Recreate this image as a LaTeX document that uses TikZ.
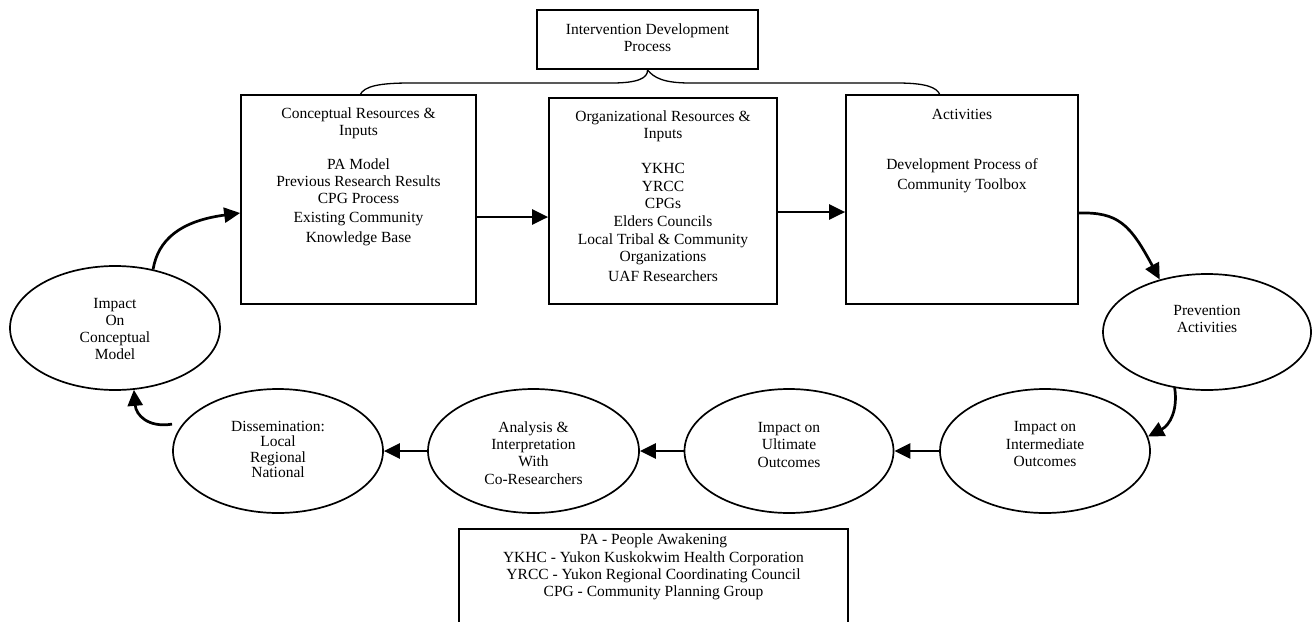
\documentclass[tikz,border=0pt]{standalone}
\usepackage{fontspec}
\setmainfont{Liberation Serif}
\usetikzlibrary{arrows.meta,shapes.geometric}
\begin{document}
\begin{tikzpicture}[x=1pt,y=-1pt,
  box/.style={draw, line width=1.7pt, rectangle, inner sep=0pt},
  oval/.style={draw, line width=1.7pt, ellipse, inner sep=0pt, minimum width=210pt, minimum height=124pt},
  txt/.style={font=\fontsize{15.5}{17.3}\selectfont, align=center, inner sep=0pt},
  arr/.style={line width=2.7pt, -{Triangle[length=16pt,width=15pt]}},
]
\clip (0,0) rectangle (1313,621);
\fill[white] (0,0) rectangle (1313,621);

% boxes
\node[box, minimum width=221pt, minimum height=59pt] (top) at (647.5,39.5) {};
\node[box, minimum width=235pt, minimum height=209pt] (b1) at (358.5,199.5) {};
\node[box, minimum width=228pt, minimum height=206pt] (b2) at (663,201) {};
\node[box, minimum width=232pt, minimum height=209pt] (b3) at (962,199.5) {};
\node[box, minimum width=389pt, minimum height=111pt] (leg) at (653.5,584.5) {};

% box texts
\node[txt] (ttop) at (647.5,37.5) {Intervention Development\\Process};
\node[txt] (t1h) at (358.5,123) {Conceptual Resources \&\\Inputs};
\node[txt] (t1b) at (358.5,202) {PA Model\\Previous Research Results\\CPG Process\\[1pt]Existing Community\\[2.5pt]Knowledge Base};
\node[txt] (t2h) at (663,126) {Organizational Resources \&\\Inputs};
\node[txt] (t2b) at (663,222.5) {YKHC\\YRCC\\CPGs\\[1pt]Elders Councils\\Local Tribal \& Community\\Organizations\\[2.5pt]UAF Researchers};
\node[txt] (t3h) at (962,114) {Activities};
\node[txt] (t3b) at (962,176) {Development Process of\\[2.7pt]Community Toolbox};
\node[txt] (tleg) at (653.5,567) {PA - People Awakening\\YKHC - Yukon Kuskokwim Health Corporation\\YRCC - Yukon Regional Coordinating Council\\CPG - Community Planning Group};

% ellipses
\node[oval] (imp) at (115,328) {};
\node[oval, minimum width=208pt, minimum height=116pt] (prev) at (1207,332) {};
\node[oval] (inter) at (1045,451) {};
\node[oval, minimum width=209pt] (ult) at (789,451) {};
\node[oval, minimum width=211pt] (ana) at (533.5,451) {};
\node[oval] (diss) at (278,451) {};

% ellipse texts
\node[txt] (timp) at (115,329) {Impact\\On\\Conceptual\\Model};
\node[txt, font=\fontsize{15.5}{15.2}\selectfont] (tdiss) at (278,449.5) {Dissemination:\\Local\\Regional\\National};
\node[txt] (tana) at (533.5,453) {Analysis \&\\Interpretation\\With\\Co-Researchers};
\node[txt] (tult) at (789,444.7) {Impact on\\Ultimate\\Outcomes};
\node[txt] (tint) at (1045,444) {Impact on\\Intermediate\\Outcomes};
\node[txt] (tprev) at (1207,319) {Prevention\\Activities};

% brace
\draw[line width=1.3pt] (360,95) .. controls (364,86) and (380,83) .. (410,83) -- (612,83)
  .. controls (638,83) and (648,78) .. (top.south)
  .. controls (654,78) and (664,83) .. (690,83) -- (897,83)
  .. controls (925,83) and (937,87) .. (940,95);

% arrows
\draw[arr] (b1.east |- 0,217) -- (b2.west |- 0,217);
\draw[arr] (b2.east |- 0,212) -- (b3.west |- 0,212);
\draw[arr] (b3.east |- 0,213) .. controls (1118,212) and (1130,224) .. (prev.132);
\draw[arr] (prev.-120) .. controls (1178,410) and (1170,425) .. (inter.8);
\draw[arr] (inter.west) -- (ult.east);
\draw[arr] (ult.west) -- (ana.east);
\draw[arr] (ana.west) -- (diss.east);
\draw[arr, shorten <=12pt] (diss.163) .. controls (148,428) and (136,415) .. (imp.-73);
\draw[arr] (imp.57) .. controls (158,240) and (180,221) .. (b1.west |- 0,213);
\end{tikzpicture}
\end{document}
